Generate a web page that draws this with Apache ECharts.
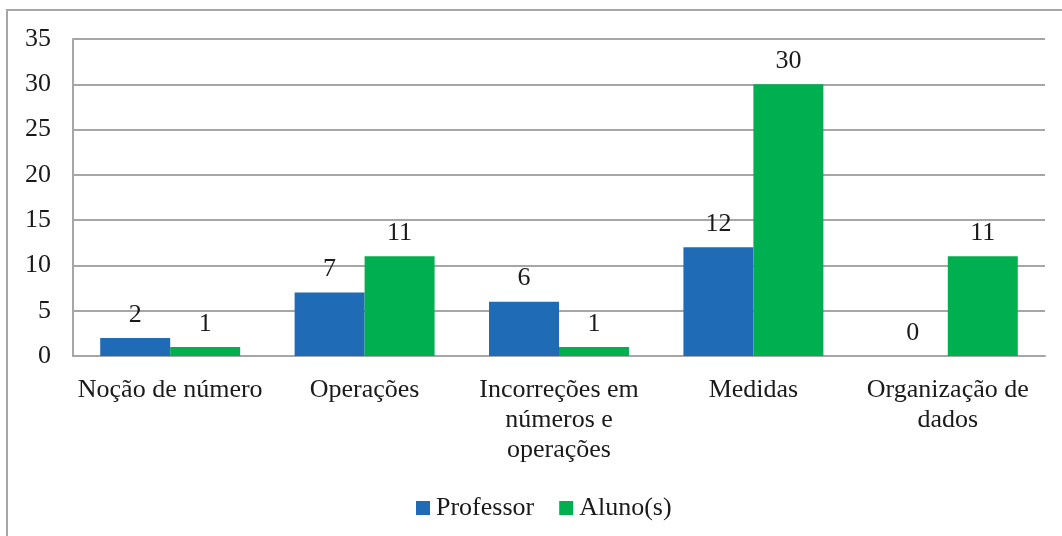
<!DOCTYPE html>
<html>
<head>
<meta charset="utf-8">
<script src="https://cdn.jsdelivr.net/npm/echarts@6/dist/echarts.min.js"></script>
<style>
  html, body { margin: 0; padding: 0; background: #fff; }
  #chart { width: 1062px; height: 536px; }
</style>
</head>
<body>
<div id="chart"></div>
<script>
// Categories (line breaks as they appear under the axis)
const categories = [
  'Noção de número',
  'Operações',
  'Incorreções em\nnúmeros e\noperações',
  'Medidas',
  'Organização de\ndados'
];
const professorValues = [2, 7, 6, 12, 0];
const alunoValues = [1, 11, 1, 30, 11];
const seriesNames = ['Professor', 'Aluno(s)'];

const FONT = '"Liberation Serif", "Times New Roman", serif';
const TEXT = '#1a1a1a';
const GRID = '#a6a6a6';
const FS = 26;

const chart = echarts.init(document.getElementById('chart'));

const labelStyle = {
  show: true,
  position: 'top',
  distance: 10,
  color: TEXT,
  fontFamily: FONT,
  fontSize: FS
};

chart.setOption({
  animation: false,
  backgroundColor: '#fff',
  graphic: [{
    type: 'rect',
    shape: { x: 7, y: 10, width: 1070, height: 560 },
    style: { fill: 'none', stroke: GRID, lineWidth: 2 },
    silent: true,
    z: -1
  }],
  grid: { left: 73, right: 17, top: 39, bottom: 180 },
  legend: {
    bottom: 10,
    left: 411,
    itemWidth: 14,
    itemHeight: 14,
    itemGap: 25,
    icon: 'rect',
    textStyle: { color: TEXT, fontFamily: FONT, fontSize: FS, padding: [0, 0, 0, 1] },
    data: seriesNames
  },
  xAxis: {
    type: 'category',
    data: categories,
    axisTick: { show: false },
    axisLine: { lineStyle: { color: GRID, width: 2 } },
    axisLabel: {
      interval: 0,
      margin: 19,
      color: TEXT,
      fontFamily: FONT,
      fontSize: FS,
      lineHeight: 30
    }
  },
  yAxis: {
    type: 'value',
    min: 0,
    max: 35,
    interval: 5,
    axisLine: { show: true, lineStyle: { color: GRID, width: 2 } },
    axisTick: { show: false },
    splitLine: { lineStyle: { color: GRID, width: 2 } },
    axisLabel: {
      margin: 22,
      color: TEXT,
      fontFamily: FONT,
      fontSize: FS
    }
  },
  series: [
    {
      name: seriesNames[0],
      type: 'bar',
      data: professorValues,
      itemStyle: { color: '#1f6bb6' },
      barGap: '0%',
      barCategoryGap: '28%',
      label: labelStyle
    },
    {
      name: seriesNames[1],
      type: 'bar',
      data: alunoValues,
      itemStyle: { color: '#00b050' },
      label: labelStyle
    }
  ]
});
</script>
</body>
</html>
